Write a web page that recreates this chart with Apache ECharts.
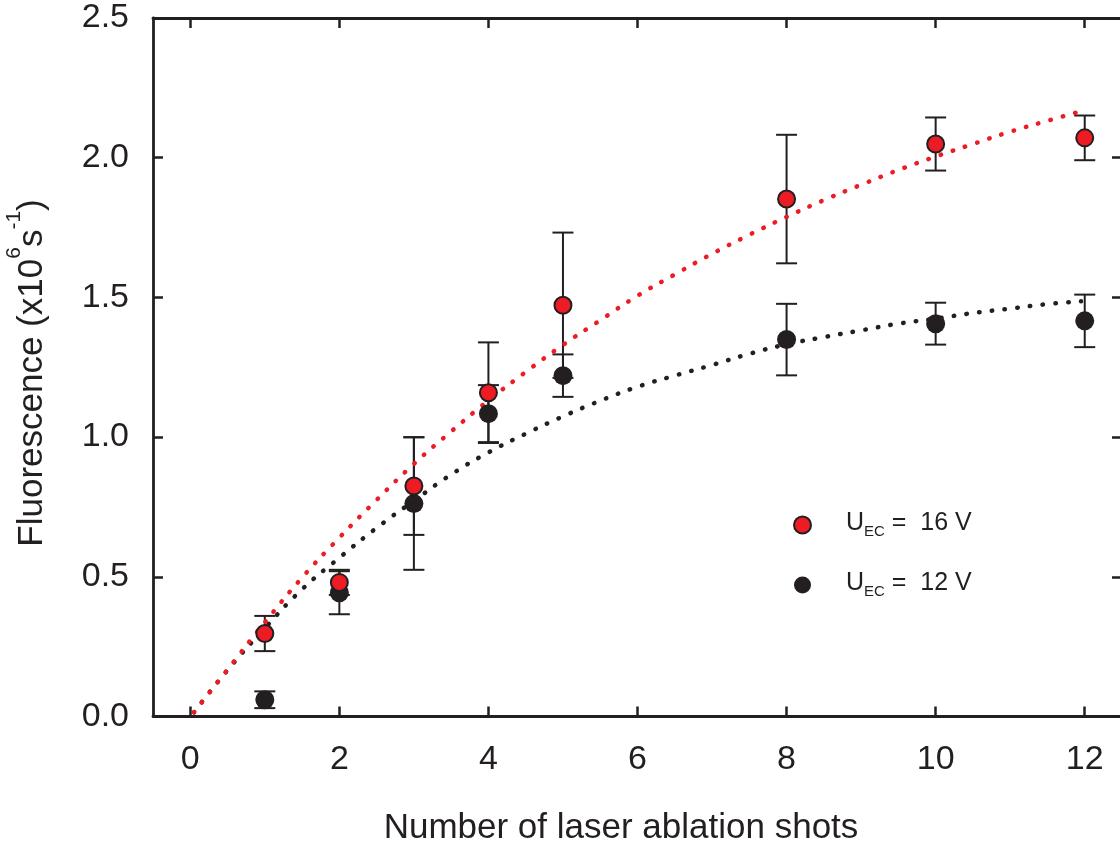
<!DOCTYPE html>
<html>
<head>
<meta charset="utf-8">
<script src="https://cdn.jsdelivr.net/npm/echarts@6/dist/echarts.min.js"></script>
<style>
html,body{margin:0;padding:0;background:#fff;}
#chart{width:1120px;height:842px;}
</style>
</head>
<body>
<div id="chart"></div>
<script>
// ---- data ----
const shots = [1, 2, 3, 4, 5, 8, 10, 12];
const red16 = [0.297, 0.480, 0.825, 1.159, 1.472, 1.852, 2.049, 2.071];
const red16Err = [0.063, 0.045, 0.175, 0.180, 0.260, 0.230, 0.095, 0.080];
const black12 = [0.060, 0.443, 0.762, 1.084, 1.220, 1.349, 1.406, 1.416];
const black12Err = [0.030, 0.077, 0.237, 0.102, 0.076, 0.128, 0.075, 0.094];

const fitRedX = [0.05, 0.5, 1, 1.5, 2, 2.5, 3, 3.5, 4, 4.5, 5, 5.5, 6, 6.5, 7, 7.5, 8, 8.5, 9, 9.5, 10, 10.5, 11, 11.5, 12];
const fitRedY = [0.015, 0.168, 0.337, 0.497, 0.640, 0.775, 0.904, 1.020, 1.131, 1.233, 1.330, 1.418, 1.506, 1.582, 1.656, 1.724, 1.788, 1.848, 1.903, 1.956, 2.004, 2.049, 2.093, 2.132, 2.170];
const fitBlackX = [0.05, 0.5, 1, 1.5, 2, 2.5, 3, 3.5, 4, 4.5, 5, 5.5, 6, 6.5, 7, 7.5, 8, 8.5, 9, 9.5, 10, 10.5, 11, 11.5, 11.95];
const fitBlackY = [0.015, 0.166, 0.316, 0.455, 0.568, 0.675, 0.772, 0.866, 0.945, 1.012, 1.074, 1.130, 1.180, 1.220, 1.258, 1.298, 1.332, 1.358, 1.382, 1.406, 1.424, 1.444, 1.460, 1.476, 1.486];

const xTicks = [0, 2, 4, 6, 8, 10, 12];
const legendLabels = ['16 V', '12 V'];

// ---- styling ----
const ink = '#231F20';
const redC = '#ED1C24';
const ff = "'Liberation Sans', Arial, Helvetica, sans-serif";

const chart = echarts.init(document.getElementById('chart'), null, {renderer: 'canvas'});

const errData = (ys, es) => shots.map((x, i) => [x, ys[i] - es[i], ys[i] + es[i]]);
function renderErr(params, api) {
  const x = api.value(0);
  const lo = api.coord([x, api.value(1)]);
  const hi = api.coord([x, api.value(2)]);
  const hw = 10.5;
  const st = {stroke: ink, lineWidth: 2};
  return {
    type: 'group',
    children: [
      {type: 'line', shape: {x1: lo[0], y1: lo[1], x2: hi[0], y2: hi[1]}, style: st},
      {type: 'line', shape: {x1: lo[0] - hw, y1: lo[1], x2: lo[0] + hw, y2: lo[1]}, style: st},
      {type: 'line', shape: {x1: hi[0] - hw, y1: hi[1], x2: hi[0] + hw, y2: hi[1]}, style: st}
    ]
  };
}

const axisLineStyle = {color: ink, width: 2.8};
const tickStyle = {color: ink, width: 2.5};

const option = {
  animation: false,
  backgroundColor: '#fff',
  grid: {left: 153, top: 18, width: 969, height: 698.5, containLabel: false, outerBoundsMode: 'none'},
  xAxis: [
    {
      type: 'value', min: -0.5, max: 12.5, position: 'bottom',
      axisLine: {show: true, onZero: false, lineStyle: axisLineStyle},
      axisTick: {show: true, inside: true, length: 10, lineStyle: tickStyle, customValues: xTicks},
      axisLabel: {customValues: xTicks, fontSize: 34, color: ink, fontFamily: ff, margin: 26},
      splitLine: {show: false},
      name: 'Number of laser ablation shots', nameLocation: 'middle', nameGap: 94,
      nameTextStyle: {fontSize: 35, color: ink, fontFamily: ff, padding: [0, 33, 0, 0]}
    },
    {
      type: 'value', min: -0.5, max: 12.5, position: 'top',
      axisLine: {show: true, onZero: false, lineStyle: axisLineStyle},
      axisTick: {show: true, inside: true, length: 10, lineStyle: tickStyle, customValues: xTicks},
      axisLabel: {show: false, customValues: xTicks},
      splitLine: {show: false}
    }
  ],
  yAxis: [
    {
      type: 'value', min: 0, max: 2.5, interval: 0.5, position: 'left',
      axisLine: {show: true, onZero: false, lineStyle: axisLineStyle},
      axisTick: {show: true, inside: true, length: 10, lineStyle: tickStyle},
      axisLabel: {fontSize: 34, color: ink, fontFamily: ff, margin: 24, formatter: v => v.toFixed(1)},
      splitLine: {show: false}
    },
    {
      type: 'value', min: 0, max: 2.5, interval: 0.5, position: 'right',
      axisLine: {show: true, onZero: false, lineStyle: axisLineStyle},
      axisTick: {show: true, inside: true, length: 10, lineStyle: tickStyle},
      axisLabel: {show: false},
      splitLine: {show: false}
    }
  ],
  legend: {
    orient: 'vertical', left: 788, top: 506, itemGap: 32,
    itemWidth: 17, itemHeight: 17, selectedMode: false,
    data: [{name: 'U16', icon: 'circle'}, {name: 'U12', icon: 'circle'}],
    formatter: name => '{u|U}{s|EC}{t| =  ' + (name === 'U16' ? legendLabels[0] : legendLabels[1]) + '}',
    textStyle: {
      color: ink, fontFamily: ff,
      rich: {
        u: {fontSize: 25, lineHeight: 28, verticalAlign: 'top', padding: [0, 0, 0, 30], color: ink, fontFamily: ff},
        s: {fontSize: 15, lineHeight: 8, verticalAlign: 'bottom', color: ink, fontFamily: ff},
        t: {fontSize: 25, lineHeight: 28, verticalAlign: 'top', color: ink, fontFamily: ff}
      }
    }
  },
  graphic: [
    {
      type: 'text', x: 27, y: 373, rotation: Math.PI / 2,
      style: {
        text: '{a|Fluorescence (x10}{sup|6}{a|s}{sup|-1}{a|)}',
        align: 'center', verticalAlign: 'middle',
        rich: {
          a: {fontSize: 35, lineHeight: 46, verticalAlign: 'bottom', fill: ink, fontFamily: ff},
          sup: {fontSize: 21, lineHeight: 21, verticalAlign: 'top', fill: ink, fontFamily: ff}
        }
      }
    }
  ],
  series: [
    {
      name: 'err16', type: 'custom', renderItem: renderErr, z: 1,
      encode: {x: 0, y: [1, 2]}, data: errData(red16, red16Err), silent: true
    },
    {
      name: 'err12', type: 'custom', renderItem: renderErr, z: 1,
      encode: {x: 0, y: [1, 2]}, data: errData(black12, black12Err), silent: true
    },
    {
      name: 'fit12', type: 'line', z: 2, showSymbol: false, symbol: 'none', smooth: true,
      data: fitBlackX.map((x, i) => [x, fitBlackY[i]]),
      lineStyle: {color: ink, width: 4.5, type: [0.5, 12.3], cap: 'round'}
    },
    {
      name: 'fit16', type: 'line', z: 2, showSymbol: false, symbol: 'none', smooth: true,
      data: fitRedX.map((x, i) => [x, fitRedY[i]]),
      lineStyle: {color: redC, width: 4.5, type: [0.5, 12.3], cap: 'round'}
    },
    {
      name: 'U12', type: 'scatter', z: 3, symbol: 'circle', symbolSize: 19,
      data: shots.map((x, i) => [x, black12[i]]),
      itemStyle: {color: ink, borderColor: ink, borderWidth: 0, opacity: 1}
    },
    {
      name: 'U16', type: 'scatter', z: 3, symbol: 'circle', symbolSize: 17,
      data: shots.map((x, i) => [x, red16[i]]),
      itemStyle: {color: redC, borderColor: ink, borderWidth: 2, opacity: 1}
    }
  ]
};
chart.setOption(option);
</script>
</body>
</html>
